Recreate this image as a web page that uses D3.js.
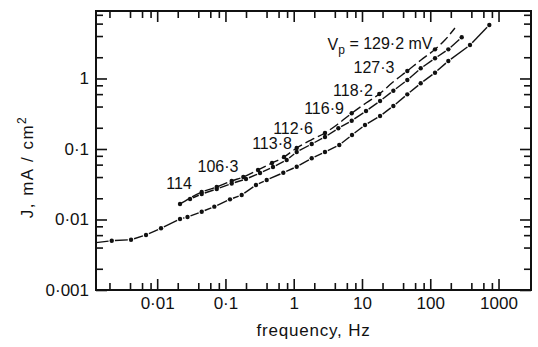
<!DOCTYPE html>
<html><head><meta charset="utf-8">
<script src="https://cdn.jsdelivr.net/npm/d3@7"></script>
<style>
body{margin:0;background:#fff}
svg{display:block}
text{font-family:"Liberation Sans",Arial,sans-serif;fill:#111}
</style>
</head><body>
<svg id="chart" width="538" height="347"></svg>
<script>
// ---- data (frequency in Hz, current density J in mA/cm^2) ----
const lowerF = [0.00127,0.00216,0.00414,0.00686,0.01138,0.0216,0.0278,0.0449,0.0687,0.1166,0.173,0.280,0.402,0.704,1.106,1.835,2.87,4.65,7.14,11.07,18.4,28.8,46.1,72.5,117.4,183.9,382,733];
const lowerJ = [0.00469,0.00500,0.00517,0.00603,0.0075,0.01016,0.01085,0.0129,0.0152,0.0193,0.0223,0.0308,0.0363,0.0461,0.0561,0.0738,0.0907,0.1139,0.158,0.219,0.2936,0.407,0.596,0.854,1.208,1.77,2.98,5.73];
const lowerDot = [false,true,true,true,true,true,true,true,true,true,true,true,true,true,true,true,true,true,true,true,true,true,true,true,true,true,true,true];

const middleF = [0.0303,0.0449,0.0745,0.1235,0.200,0.321,0.497,0.789,1.106,1.835,2.87,4.50,7.07,11.46,18.4,28.8,46.1,72.5,117.4,183.9,289];
const middleJ = [0.01953,0.0230,0.0271,0.0324,0.0375,0.0456,0.0555,0.0698,0.0907,0.1177,0.148,0.1965,0.252,0.3457,0.479,0.671,0.951,1.394,1.932,2.59,3.84];

const topF = [0.0216,0.0449,0.0745,0.1235,0.1827,0.300,0.481,0.721,1.106,1.792,2.87,4.45,7.07,11.46,17.9,28.5,46.1,73.2,117.4,164,230];
const topJ = [0.01659,0.02455,0.0289,0.0352,0.0401,0.0504,0.0633,0.0770,0.1033,0.134,0.1685,0.2262,0.321,0.449,0.602,0.891,1.277,1.83,2.59,3.51,5.2];
const topDot = [true,true,true,true,true,true,true,true,true,false,true,false,true,false,true,false,true,false,true,false,false];

// point labels (polarisation potential, mV) and their anchor in data units
const labelText = ["114","106·3","113·8","112·6","116·9","118·2","127·3"];
const labelF = [0.0209,0.0778,0.481,0.977,2.78,7.38,15.0];
const labelJ = [0.0329,0.0574,0.1216,0.1984,0.3814,0.686,1.455];
const vpLabel = {main:"V", sub:"p", rest:" = 129·2 mV", f:18.4, J:3.08};

// axes ticks
const xMajor = [0.01,0.1,1,10,100,1000];
const xMajorLabels = ["0·01","0·1","1","10","100","1000"];
const yMajor = [0.001,0.01,0.1,1];
const yMajorLabels = ["0·001","0·01","0·1","1"];
const minorMult = [2,4,6,8];
const xDecades = [0.001,0.01,0.1,1,10,100];
const yDecades = [0.001,0.01,0.1,1];

// ---- drawing ----
const L=96, R=531, T=11, B=290;
const svg = d3.select("#chart");
const x = d3.scaleLog().domain([0.00127,2990]).range([L,R]);
const y = d3.scaleLog().domain([0.001,9.06]).range([B,T]);

const xMinor = xDecades.flatMap(d=>minorMult.map(m=>d*m)).filter(v=>v>=x.domain()[0]&&v<=x.domain()[1]);
const yMinor = yDecades.flatMap(d=>minorMult.map(m=>d*m)).filter(v=>v>=y.domain()[0]&&v<=y.domain()[1]);

function styleAxis(g){
  g.select(".domain").remove();
  g.selectAll(".tick line").attr("stroke","#111").attr("stroke-width",1.6);
  g.selectAll(".tick text").attr("font-size",17).attr("fill","#111")
    .attr("font-family","'Liberation Sans',Arial,sans-serif");
}
const majLen=11, minLen=7;
// bottom
svg.append("g").attr("transform",`translate(0,${B})`)
  .call(d3.axisBottom(x).tickValues(xMajor).tickSizeInner(-majLen).tickSizeOuter(0).tickPadding(7)
    .tickFormat((d,i)=>xMajorLabels[i])).call(styleAxis);
svg.append("g").attr("transform",`translate(0,${B})`)
  .call(d3.axisBottom(x).tickValues(xMinor).tickSizeInner(-minLen).tickSizeOuter(0).tickFormat(()=>"")).call(styleAxis);
// top
svg.append("g").attr("transform",`translate(0,${T})`)
  .call(d3.axisTop(x).tickValues(xMajor).tickSizeInner(-majLen).tickSizeOuter(0).tickFormat(()=>"")).call(styleAxis);
svg.append("g").attr("transform",`translate(0,${T})`)
  .call(d3.axisTop(x).tickValues(xMinor).tickSizeInner(-minLen).tickSizeOuter(0).tickFormat(()=>"")).call(styleAxis);
// left
svg.append("g").attr("transform",`translate(${L},0)`)
  .call(d3.axisLeft(y).tickValues(yMajor).tickSizeInner(-majLen).tickSizeOuter(0).tickPadding(7)
    .tickFormat((d,i)=>yMajorLabels[i])).call(styleAxis);
svg.append("g").attr("transform",`translate(${L},0)`)
  .call(d3.axisLeft(y).tickValues(yMinor).tickSizeInner(-minLen).tickSizeOuter(0).tickFormat(()=>"")).call(styleAxis);
// right
svg.append("g").attr("transform",`translate(${R},0)`)
  .call(d3.axisRight(y).tickValues(yMajor).tickSizeInner(-majLen).tickSizeOuter(0).tickFormat(()=>"")).call(styleAxis);
svg.append("g").attr("transform",`translate(${R},0)`)
  .call(d3.axisRight(y).tickValues(yMinor).tickSizeInner(-minLen).tickSizeOuter(0).tickFormat(()=>"")).call(styleAxis);

// frame
svg.append("rect").attr("x",L).attr("y",T).attr("width",R-L).attr("height",B-T)
  .attr("fill","none").attr("stroke","#111").attr("stroke-width",2);

// dotted-dash series: segments shortened around each dot
function segSeries(F,J,dots,gap){
  const pts = F.map((f,i)=>[x(f),y(J[i]),dots[i]]);
  const g = svg.append("g");
  for(let i=0;i<pts.length-1;i++){
    const [x0,y0,d0]=pts[i],[x1,y1,d1]=pts[i+1];
    const dx=x1-x0, dy=y1-y0, len=Math.hypot(dx,dy);
    const a = d0?gap:0, b = d1?gap:0;
    if(len<=a+b+1) continue;
    g.append("line")
      .attr("x1",x0+dx*a/len).attr("y1",y0+dy*a/len)
      .attr("x2",x1-dx*b/len).attr("y2",y1-dy*b/len)
      .attr("stroke","#111").attr("stroke-width",1.4);
  }
  g.selectAll("circle").data(pts.filter(p=>p[2])).join("circle")
    .attr("cx",p=>p[0]).attr("cy",p=>p[1]).attr("r",2.2).attr("fill","#111");
}
segSeries(lowerF,lowerJ,lowerDot,3.2);
segSeries(middleF,middleJ,middleF.map(()=>true),3.2);

// top curve: long dashes with dots at labelled points
const line = d3.line().x(d=>x(d[0])).y(d=>y(d[1])).curve(d3.curveMonotoneX);
svg.append("path").datum(topF.map((f,i)=>[f,topJ[i]]))
  .attr("d",line).attr("fill","none").attr("stroke","#111").attr("stroke-width",1.4)
  .attr("stroke-dasharray","10,4");
svg.append("g").selectAll("circle").data(topF.map((f,i)=>[f,topJ[i],topDot[i]]).filter(d=>d[2])).join("circle")
  .attr("cx",d=>x(d[0])).attr("cy",d=>y(d[1])).attr("r",2.2).attr("fill","#111");

// point labels
svg.append("g").selectAll("text").data(labelText).join("text")
  .attr("x",(d,i)=>x(labelF[i])).attr("y",(d,i)=>y(labelJ[i])).attr("dy","0.35em")
  .attr("text-anchor","middle").attr("font-size",16).text(d=>d);
const vp = svg.append("text").attr("x",x(vpLabel.f)).attr("y",y(vpLabel.J)).attr("dy","0.35em")
  .attr("text-anchor","middle").attr("font-size",16);
vp.append("tspan").text(vpLabel.main);
vp.append("tspan").attr("font-size",12).attr("dy","0.35em").text(vpLabel.sub);
vp.append("tspan").attr("dy","-0.3em").text(vpLabel.rest);

// axis titles
svg.append("text").attr("x",(L+R)/2).attr("y",336).attr("text-anchor","middle")
  .attr("font-size",17).attr("letter-spacing",0.8).text("frequency, Hz");
const yt = svg.append("text").attr("transform",`translate(33,167) rotate(-90)`)
  .attr("text-anchor","middle").attr("font-size",17).attr("letter-spacing",1.5);
yt.append("tspan").text("J,  mA / cm");
yt.append("tspan").attr("font-size",12).attr("dy","-0.6em").text("2");
</script>
</body></html>
